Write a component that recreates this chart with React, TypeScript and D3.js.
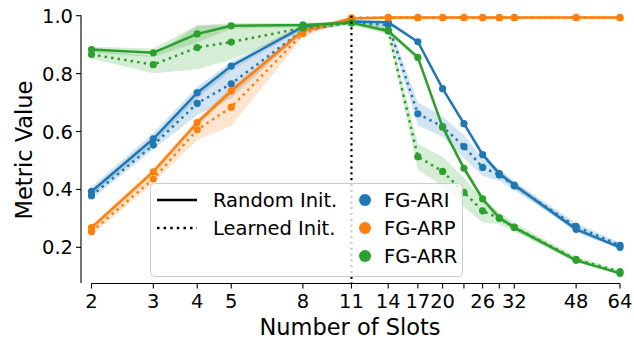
import React from "react";
import * as d3 from "d3";

const slots = [2, 3, 4, 5, 8, 11, 14, 17, 20, 23, 26, 29, 32, 48, 64];
const xTickLabels = ["2", "3", "4", "5", "8", "11", "14", "17", "20", "", "26", "", "32", "48", "64"];
const yTicks = [0.2, 0.4, 0.6, 0.8, 1.0];

const ariRandom = [0.393, 0.575, 0.734, 0.826, 0.962, 0.980, 0.977, 0.910, 0.748, 0.627, 0.520, 0.455, 0.415, 0.262, 0.200];
const ariRandomStd = [0.015, 0.02, 0.02, 0.015, 0.008, 0.005, 0.005, 0.006, 0.006, 0.006, 0.01, 0.01, 0.01, 0.01, 0.008];
const ariLearned = [0.378, 0.553, 0.697, 0.765, 0.950, 0.978, 0.968, 0.661, 0.617, 0.548, 0.476, 0.450, 0.412, 0.272, 0.207];
const ariLearnedStd = [0.012, 0.015, 0.04, 0.05, 0.01, 0.005, 0.01, 0.04, 0.035, 0.04, 0.03, 0.02, 0.015, 0.012, 0.01];

const arpRandom = [0.268, 0.461, 0.631, 0.740, 0.948, 0.990, 0.994, 0.994, 0.994, 0.994, 0.994, 0.994, 0.994, 0.994, 0.994];
const arpRandomStd = [0.01, 0.012, 0.012, 0.012, 0.008, 0.003, 0.003, 0.003, 0.003, 0.003, 0.003, 0.003, 0.003, 0.003, 0.003];
const arpLearned = [0.254, 0.436, 0.606, 0.684, 0.938, 0.993, 0.993, 0.993, 0.993, 0.993, 0.993, 0.993, 0.993, 0.993, 0.993];
const arpLearnedStd = [0.012, 0.015, 0.035, 0.065, 0.012, 0.004, 0.003, 0.003, 0.003, 0.003, 0.003, 0.003, 0.003, 0.003, 0.003];

const arrRandom = [0.883, 0.872, 0.937, 0.965, 0.968, 0.976, 0.947, 0.856, 0.615, 0.473, 0.367, 0.302, 0.268, 0.155, 0.110];
const arrRandomStd = [0.01, 0.015, 0.03, 0.01, 0.008, 0.005, 0.008, 0.01, 0.01, 0.01, 0.01, 0.01, 0.008, 0.006, 0.005];
const arrLearned = [0.866, 0.831, 0.890, 0.909, 0.958, 0.975, 0.950, 0.513, 0.462, 0.390, 0.326, 0.300, 0.270, 0.158, 0.116];
const arrLearnedStd = [0.015, 0.03, 0.075, 0.06, 0.01, 0.008, 0.015, 0.045, 0.05, 0.05, 0.04, 0.02, 0.015, 0.01, 0.006];

const metricNames = ["FG-ARI", "FG-ARP", "FG-ARR"];
const metricColors = ["#1f77b4", "#ff7f0e", "#2ca02c"];
const initNames = ["Random Init.", "Learned Init."];
const splitSlot = 11;

const series = [
  { metric: 0, init: 0, values: ariRandom, std: ariRandomStd },
  { metric: 0, init: 1, values: ariLearned, std: ariLearnedStd },
  { metric: 1, init: 0, values: arpRandom, std: arpRandomStd },
  { metric: 1, init: 1, values: arpLearned, std: arpLearnedStd },
  { metric: 2, init: 0, values: arrRandom, std: arrRandomStd },
  { metric: 2, init: 1, values: arrLearned, std: arrLearnedStd },
];

const FONT = "DejaVu Sans, sans-serif";

export default function App() {
  const W = 634;
  const H = 339;
  const x = d3.scaleLog().domain([2, 64]).range([91.5, 620]);
  const y = d3.scaleLinear().domain([0.2, 1.0]).range([247.3, 15.7]);
  const axisLeft = 81;
  const axisBottom = 283.5;
  const yBottom = 283;

  const line = d3
    .line<number>()
    .x((_, i) => x(slots[i]))
    .y((v) => y(v));

  const band = (vals: number[], sd: number[]) =>
    d3
      .area<number>()
      .x((_, i) => x(slots[i]))
      .y0((v, i) => y(v - sd[i]))
      .y1((v, i) => y(v + sd[i]))(vals) as string;

  const dotted = "2.5 4.1";

  return (
    <svg width={W} height={H} style={{ position: "absolute", left: 0, top: 0, background: "#fff" }} fontFamily={FONT}>
      {/* bands */}
      {series.map((s, k) => (
        <path key={"b" + k} d={band(s.values, s.std)} fill={metricColors[s.metric]} fillOpacity={0.2} stroke="none" />
      ))}
      {/* lines */}
      {series.map((s, k) => (
        <g key={"l" + k}>
          <path
            d={line(s.values) as string}
            fill="none"
            stroke={metricColors[s.metric]}
            strokeWidth={2.5}
            strokeDasharray={s.init === 1 ? dotted : undefined}
          />
          {s.values.map((v, i) => (
            <circle key={i} cx={x(slots[i])} cy={y(v)} r={3.6} fill={metricColors[s.metric]} />
          ))}
        </g>
      ))}
      {/* vertical split line */}
      <line x1={x(splitSlot)} x2={x(splitSlot)} y1={15.7} y2={yBottom} stroke="#000" strokeWidth={2.2} strokeDasharray="2.2 3.6" />

      {/* y axis */}
      <line x1={axisLeft} x2={axisLeft} y1={15.2} y2={yBottom} stroke="#000" strokeWidth={1.1} />
      {yTicks.map((t) => (
        <g key={t}>
          <line x1={axisLeft - 5} x2={axisLeft} y1={y(t)} y2={y(t)} stroke="#000" strokeWidth={1.1} />
          <text x={axisLeft - 8} y={y(t)} dy="0.36em" textAnchor="end" fontSize={19.5} fill="#000">
            {t.toFixed(1)}
          </text>
        </g>
      ))}
      <text transform={`translate(24,150) rotate(-90)`} textAnchor="middle" dy="0.36em" fontSize={22.5} fill="#000">
        Metric Value
      </text>

      {/* x axis */}
      <line x1={x(2)} x2={x(64)} y1={axisBottom} y2={axisBottom} stroke="#000" strokeWidth={1.1} />
      {slots.map((s, i) => (
        <g key={s}>
          <line x1={x(s)} x2={x(s)} y1={axisBottom} y2={axisBottom + 5} stroke="#000" strokeWidth={1.1} />
          {xTickLabels[i] && (
            <text x={x(s)} y={308} textAnchor="middle" fontSize={19.5} fill="#000">
              {xTickLabels[i]}
            </text>
          )}
        </g>
      ))}
      <text x={350} y={335} textAnchor="middle" fontSize={22.5} fill="#000">
        Number of Slots
      </text>

      {/* legend */}
      <rect x={150.5} y={183.5} width={312} height={93} rx={4} fill="#fff" fillOpacity={0.8} stroke="#cccccc" strokeWidth={1} />
      {initNames.map((n, i) => (
        <g key={n}>
          <line
            x1={157}
            x2={197}
            y1={200 + i * 28}
            y2={200 + i * 28}
            stroke="#000"
            strokeWidth={2.5}
            strokeDasharray={i === 1 ? dotted : undefined}
          />
          <text x={213} y={200 + i * 28} dy="0.36em" fontSize={19.5} fill="#000">
            {n}
          </text>
        </g>
      ))}
      {metricNames.map((n, i) => (
        <g key={n}>
          <circle cx={365} cy={200 + i * 28} r={6} fill={metricColors[i]} />
          <text x={384} y={200 + i * 28} dy="0.36em" fontSize={19.5} fill="#000">
            {n}
          </text>
        </g>
      ))}
    </svg>
  );
}
